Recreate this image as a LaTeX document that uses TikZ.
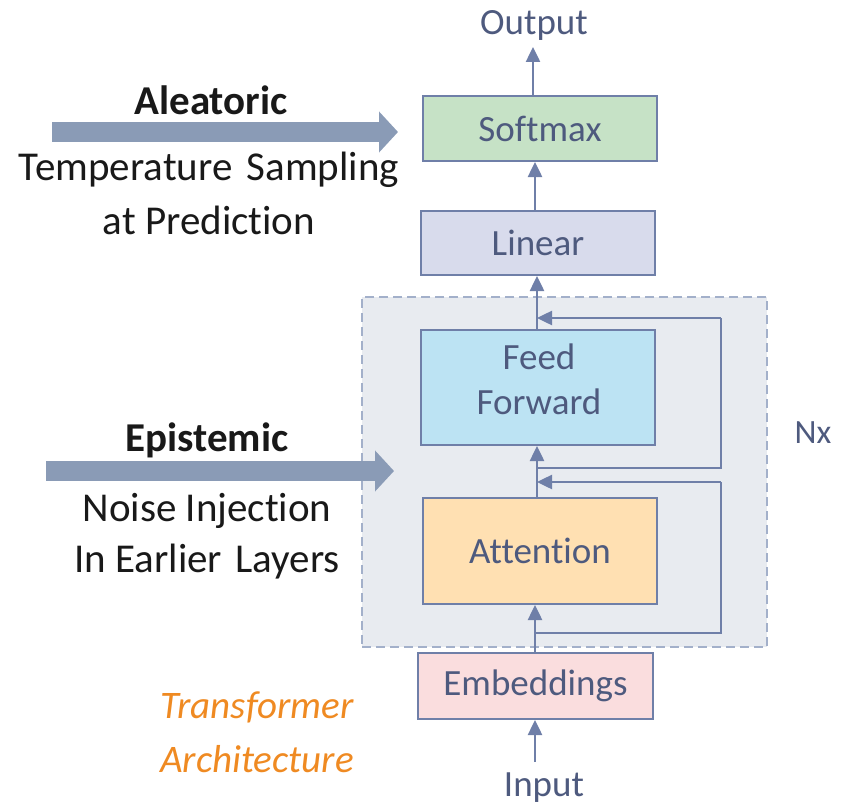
\documentclass[tikz,border=0pt]{standalone}
\usepackage{fontspec}
\setmainfont{Carlito}[Ligatures={NoCommon}]
\usetikzlibrary{arrows.meta}
\definecolor{edge}{HTML}{6F7FA8}
\definecolor{txt}{HTML}{4E5A7E}
\definecolor{bigarrow}{HTML}{8A9BB6}
\definecolor{grpfill}{HTML}{E8EBF0}
\definecolor{grpedge}{HTML}{A3B0CA}
\definecolor{cSoft}{HTML}{C6E2C6}
\definecolor{cLin}{HTML}{D8DBEC}
\definecolor{cFF}{HTML}{BCE3F3}
\definecolor{cAtt}{HTML}{FFE0B2}
\definecolor{cEmb}{HTML}{FADDDE}
\definecolor{orangetxt}{HTML}{EF8A22}
\tikzset{
  blk/.style={draw=edge, line width=2pt, minimum width=234pt, text=txt, font=\fontsize{37}{45}\selectfont, align=center, inner sep=0pt},
  flow/.style={draw=edge, line width=2.5pt, -{Triangle[width=14pt,length=15pt]}},
  resid/.style={draw=edge, line width=2.5pt},
  lbl/.style={text=txt, font=\fontsize{37}{45}\selectfont, inner sep=0pt, align=center},
  side/.style={text=black!90, font=\fontsize{41}{50}\selectfont, inner sep=0pt},
  sideb/.style={text=black!90, font=\fontsize{41}{50}\selectfont\bfseries, inner sep=0pt},
  fat/.style={draw=bigarrow, line width=20pt, -{Triangle[width=40pt,length=19pt]}},
}
\begin{document}
\begin{tikzpicture}[x=1pt,y=-1pt]
\useasboundingbox (0,0) rectangle (841,808);
% group
\node[draw=grpedge, fill=grpfill, dashed, dash pattern=on 9pt off 5pt, line width=2pt, minimum width=405pt, minimum height=350pt, inner sep=0pt] (grp) at (564.5,472) {};
% boxes
\node[blk, fill=cSoft, minimum height=65pt] (soft) at (540,128.5) {Softmax};
\node[blk, fill=cLin, minimum height=64pt] (lin) at (538,243) {Linear};
\node[blk, fill=cFF, minimum height=115pt] (ff) at (538,387.5) {};
\node[lbl] (fft) at (539,379) {Feed\\Forward};
\node[blk, fill=cAtt, minimum height=106pt] (att) at (540,551) {Attention};
\node[blk, fill=cEmb, minimum width=235pt, minimum height=66pt] (emb) at (535.5,686) {Embeddings};
% labels
\node[lbl] (out) at (534,25) {Output};
\node[lbl] (inp) at (544,788) {Input};
\node[lbl, font=\fontsize{34}{40}\selectfont] (nx) at (813,433) {Nx};
% main flow
\coordinate (outb) at (533,47);
\coordinate (inpt) at (535,762);
\draw[flow] (inpt) -- (emb.south -| inpt);
\draw[flow] (emb.north -| inpt) -- (att.south -| inpt);
\draw[flow] (att.north -| 537,0) -- (ff.south -| 537,0);
\draw[flow] (ff.north -| 537,0) -- (lin.south -| 537,0);
\draw[flow] (lin.north -| 535,0) -- (soft.south -| 535,0);
\draw[flow] (soft.north -| outb) -- (outb);
% residuals
\coordinate (r1a) at (535,633);
\coordinate (r1b) at (721,633);
\coordinate (r1c) at (721,482);
\coordinate (r1d) at (537,482);
\draw[resid] (r1a) -- (r1b) -- (r1c);
\draw[flow] (r1c) -- (r1d);
\coordinate (r2a) at (537,468);
\coordinate (r2b) at (721,468);
\coordinate (r2c) at (721,318);
\coordinate (r2d) at (537,318);
\draw[resid] (r2a) -- (r2b) -- (r2c);
\draw[flow] (r2c) -- (r2d);
% left side
\node[sideb] (ale) at (211,100) {Aleatoric};
\coordinate (a1s) at (52,132);
\coordinate (a1e) at (398,132);
\draw[fat] (a1s) -- (a1e);
\node[side] (t1) at (209,170) {Temperature\hspace{0.12em} Sampling};
\node[side] (t2) at (209,220) {at Prediction};
\node[sideb] (epi) at (207,440) {Epistemic};
\coordinate (a2s) at (46,471);
\coordinate (a2e) at (394,471);
\draw[fat] (a2s) -- (a2e);
\node[side] (n1) at (207,511) {Noise Injection};
\node[side] (n2) at (207,562) {In Earlier\hspace{0.1em} Layers};
\node[text=orangetxt, font=\fontsize{39}{48}\selectfont\itshape, inner sep=0pt] (tr1) at (257,707) {Transformer};
\node[text=orangetxt, font=\fontsize{39}{48}\selectfont\itshape, inner sep=0pt] (tr2) at (257,759) {Architecture};
\end{tikzpicture}
\end{document}
